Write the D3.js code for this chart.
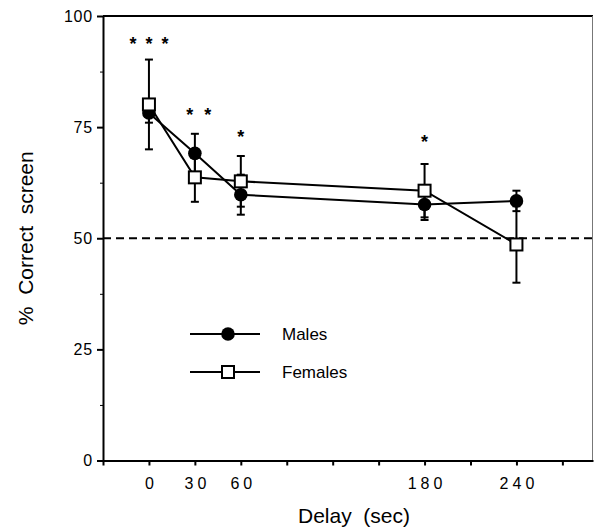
<!DOCTYPE html>
<html>
<head>
<meta charset="utf-8">
<script src="https://cdn.jsdelivr.net/npm/d3@7"></script>
<style>
  body { margin: 0; background: #fff; }
  svg { display: block; font-family: "Liberation Sans", Arial, sans-serif; }
</style>
</head>
<body>
<svg id="chart" width="594" height="528"></svg>
<script>
// Delay conditions (sec) and group means / error bars
const delays = [0, 30, 60, 180, 240];
const delayLabels = ['0', '30', '60', '180', '240'];
const malesMean = [78.2, 69.1, 59.8, 57.6, 58.4];
const malesErr = [2.2, 4.4, 4.5, 3.5, 2.3];
const femalesMean = [80.1, 63.7, 62.8, 60.7, 48.6];
const femalesErr = [10.1, 5.5, 5.7, 6.0, 8.6];

// Significance markers (above chance)
const sigDelays = [0, 32.5, 60, 180];
const sigLevels = [94.7, 78.7, 73.6, 72.6];
const sigStars = [3, 2, 1, 1];

const chanceLevel = 50;
const yTicks = [0, 25, 50, 75, 100];
const yMinorTicks = [12.5, 37.5, 62.5, 87.5];
const xTicks = [-30, 0, 30, 60, 90, 120, 150, 180, 210, 240, 270];

const svg = d3.select('#chart');

const x = d3.scaleLinear().domain([-30, 290]).range([103, 593]);
const y = d3.scaleLinear().domain([0, 100]).range([460.5, 16]);

// Frame: top line and right edge
svg.append('line')
  .attr('x1', x(-30)).attr('x2', x(290))
  .attr('y1', y(100)).attr('y2', y(100))
  .attr('stroke', '#000').attr('stroke-width', 2);

svg.append('line')
  .attr('x1', x(290) - 0.5).attr('x2', x(290) - 0.5)
  .attr('y1', y(100)).attr('y2', y(0))
  .attr('stroke', '#777').attr('stroke-width', 1);

// X axis
const xAxis = svg.append('g')
  .attr('transform', `translate(0, ${y(0)})`)
  .call(d3.axisBottom(x)
    .tickValues(xTicks)
    .tickSize(5)
    .tickSizeOuter(0)
    .tickPadding(12)
    .tickFormat((d) => {
      const i = delays.indexOf(d);
      return i >= 0 ? delayLabels[i] : '';
    }));

xAxis.select('.domain').attr('stroke-width', 2);
xAxis.selectAll('.tick line').attr('stroke-width', 2);
xAxis.selectAll('.tick text')
  .attr('fill', '#000')
  .attr('font-size', 16)
  .attr('letter-spacing', 4)
  .attr('dx', 2);

// Y axis
const yAxis = svg.append('g')
  .attr('transform', `translate(${x(-30)}, 0)`)
  .call(d3.axisLeft(y)
    .tickValues(yTicks)
    .tickSize(6)
    .tickSizeOuter(0)
    .tickPadding(4));

yAxis.select('.domain').attr('stroke-width', 2);
yAxis.selectAll('.tick line').attr('stroke-width', 2);
yAxis.selectAll('.tick text')
  .attr('fill', '#000')
  .attr('font-size', 16)
  .attr('letter-spacing', 0.8);

// Minor ticks on y
svg.append('g')
  .attr('transform', `translate(${x(-30)}, 0)`)
  .call(d3.axisLeft(y).tickValues(yMinorTicks).tickSize(3).tickFormat(''))
  .call((g) => g.select('.domain').remove());

// Axis titles
svg.append('text')
  .attr('x', 354)
  .attr('y', 523)
  .attr('text-anchor', 'middle')
  .attr('font-size', 21)
  .style('white-space', 'pre')
  .text('Delay  (sec)');

svg.append('text')
  .attr('transform', `translate(33, ${y(50)}) rotate(-90)`)
  .attr('text-anchor', 'middle')
  .attr('font-size', 21)
  .style('white-space', 'pre')
  .text('%  Correct  screen');

// Chance line
svg.append('line')
  .attr('x1', x(-30)).attr('x2', x(290))
  .attr('y1', y(chanceLevel)).attr('y2', y(chanceLevel))
  .attr('stroke', '#000')
  .attr('stroke-width', 2)
  .attr('stroke-dasharray', '8 5');

const males = delays.map((d, i) => ({ delay: d, mean: malesMean[i], err: malesErr[i] }));
const females = delays.map((d, i) => ({ delay: d, mean: femalesMean[i], err: femalesErr[i] }));

const capW = 4;

function drawErrorBars(data, cls) {
  const g = svg.append('g').attr('class', cls).attr('stroke', '#000').attr('stroke-width', 2);
  data.forEach((d) => {
    g.append('line')
      .attr('x1', x(d.delay)).attr('x2', x(d.delay))
      .attr('y1', y(d.mean - d.err)).attr('y2', y(d.mean + d.err));
    [d.mean - d.err, d.mean + d.err].forEach((v) => {
      g.append('line')
        .attr('x1', x(d.delay) - capW).attr('x2', x(d.delay) + capW)
        .attr('y1', y(v)).attr('y2', y(v));
    });
  });
}

drawErrorBars(males, 'err-males');
drawErrorBars(females, 'err-females');

const line = d3.line()
  .x((d) => x(d.delay))
  .y((d) => y(d.mean));

svg.append('path')
  .datum(males)
  .attr('fill', 'none')
  .attr('stroke', '#000')
  .attr('stroke-width', 2)
  .attr('d', line);

svg.append('path')
  .datum(females)
  .attr('fill', 'none')
  .attr('stroke', '#000')
  .attr('stroke-width', 2)
  .attr('d', line);

// Markers
svg.selectAll('circle.male')
  .data(males)
  .enter()
  .append('circle')
  .classed('male', true)
  .attr('cx', (d) => x(d.delay))
  .attr('cy', (d) => y(d.mean))
  .attr('r', 6.8)
  .attr('fill', '#000');

const sq = 12;
svg.selectAll('rect.female')
  .data(females)
  .enter()
  .append('rect')
  .classed('female', true)
  .attr('x', (d) => x(d.delay) - sq / 2)
  .attr('y', (d) => y(d.mean) - sq / 2)
  .attr('width', sq)
  .attr('height', sq)
  .attr('fill', '#fff')
  .attr('stroke', '#000')
  .attr('stroke-width', 2);

// Asterisks
sigDelays.forEach((d, i) => {
  const n = sigStars[i];
  const gap = n === 3 ? 16 : 18;
  for (let k = 0; k < n; k += 1) {
    svg.append('text')
      .attr('x', x(d) + (k - (n - 1) / 2) * gap)
      .attr('y', y(sigLevels[i]) + 10)
      .attr('text-anchor', 'middle')
      .attr('font-size', 18)
      .attr('font-weight', 'bold')
      .text('*');
  }
});

// Legend
const legend = svg.append('g');
const legendRows = [
  { label: 'Males', y: 334, kind: 'circle' },
  { label: 'Females', y: 372, kind: 'square' },
];

legendRows.forEach((row) => {
  legend.append('line')
    .attr('x1', 190).attr('x2', 260)
    .attr('y1', row.y).attr('y2', row.y)
    .attr('stroke', '#000').attr('stroke-width', 2);

  if (row.kind === 'circle') {
    legend.append('circle')
      .attr('cx', 228).attr('cy', row.y).attr('r', 6.8).attr('fill', '#000');
  } else {
    legend.append('rect')
      .attr('x', 228 - sq / 2).attr('y', row.y - sq / 2)
      .attr('width', sq).attr('height', sq)
      .attr('fill', '#fff').attr('stroke', '#000').attr('stroke-width', 2);
  }

  legend.append('text')
    .attr('x', 282)
    .attr('y', row.y + 6)
    .attr('font-size', 17)
    .text(row.label);
});
</script>
</body>
</html>
